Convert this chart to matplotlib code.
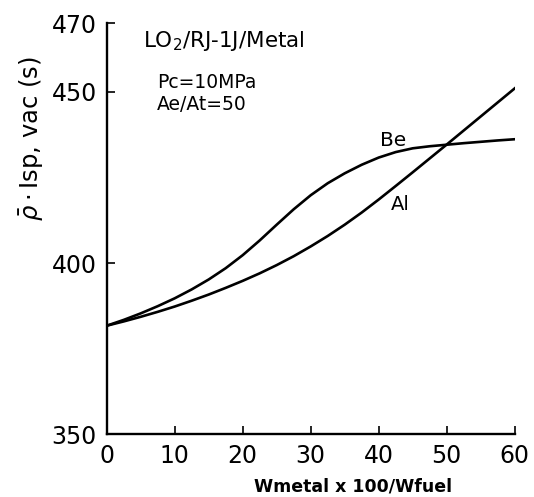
import matplotlib
matplotlib.use('Agg')
import matplotlib.pyplot as plt

# metal loading (Wmetal x 100 / Wfuel) and density-impulse for each additive
metal_pct = [0, 2.5, 5, 7.5, 10, 12.5, 15, 17.5, 20, 22.5, 25, 27.5, 30,
             32.5, 35, 37.5, 40, 42.5, 45, 47.5, 50, 52.5, 55, 57.5, 60]
isp_be = [381.7, 383.4, 385.3, 387.4, 389.7, 392.3, 395.2, 398.5, 402.3,
          406.6, 411.2, 415.7, 419.8, 423.3, 426.2, 428.7, 430.8, 432.4,
          433.5, 434.1, 434.55, 435.0, 435.4, 435.8, 436.15]
isp_al = [381.7, 382.95, 384.3, 385.75, 387.3, 389.0, 390.8, 392.75, 394.8,
          397.0, 399.4, 402.0, 404.85, 407.9, 411.2, 414.75, 418.55, 422.5,
          426.5, 430.55, 434.6, 438.7, 442.8, 446.9, 451.0]

x_ticks = [0, 10, 20, 30, 40, 50, 60]
y_ticks = [350, 400, 450, 470]

plt.rcParams['font.family'] = ['DejaVu Sans']

fig = plt.figure(figsize=(5.34, 4.97), dpi=100)
ax = fig.add_axes([0.1998, 0.1262, 0.7641, 0.8269])

ax.plot(metal_pct, isp_be, color='black', lw=1.9, solid_joinstyle='round')
ax.plot(metal_pct, isp_al, color='black', lw=1.9, solid_joinstyle='round')

ax.set_xlim(0, 60)
ax.set_ylim(350, 470)
ax.set_xticks(x_ticks)
ax.set_yticks(y_ticks)

for side in ['top', 'right']:
    ax.spines[side].set_visible(False)
for side in ['left', 'bottom']:
    ax.spines[side].set_linewidth(1.7)

ax.tick_params(direction='in', length=6, width=1.2, labelsize=17, pad=7)

ax.set_xlabel('Wmetal x 100/Wfuel', fontsize=12.5, fontweight='bold')
ax.xaxis.set_label_coords(0.605, -0.105)
ax.set_ylabel(r'$\bar{\rho}\cdot$Isp, vac (s)', fontsize=17.5)
ax.yaxis.set_label_coords(-0.15, 0.72)

ax.text(0.089, 0.957, r'LO$_2$/RJ-1J/Metal', transform=ax.transAxes,
        fontsize=15.5, ha='left', va='center')
ax.text(0.123, 0.855, 'Pc=10MPa', transform=ax.transAxes,
        fontsize=13.5, ha='left', va='center')
ax.text(0.123, 0.803, 'Ae/At=50', transform=ax.transAxes,
        fontsize=13.5, ha='left', va='center')

# curve labels
ax.text(42.1, 435.9, 'Be', fontsize=14.5, ha='center', va='center')
ax.text(43.1, 417.2, 'Al', fontsize=14, ha='center', va='center')

fig.savefig('out.png', dpi=100)
